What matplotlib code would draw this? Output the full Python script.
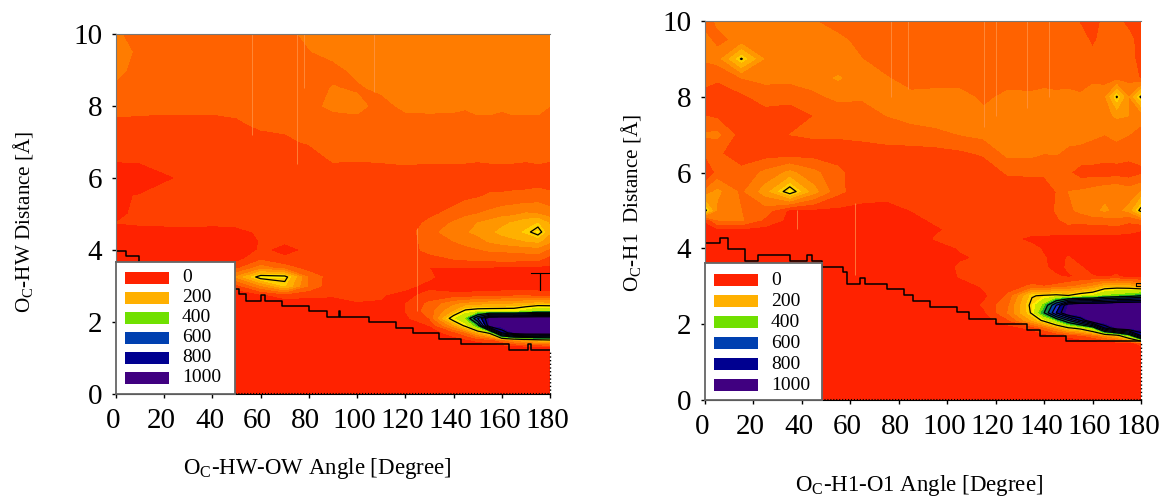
import numpy as np
import matplotlib
matplotlib.use("Agg")
import matplotlib.pyplot as plt
from matplotlib.transforms import ScaledTranslation

plt.rcParams['font.family'] = ['Liberation Serif', 'DejaVu Serif']
plt.rcParams['mathtext.fontset'] = 'custom'
plt.rcParams['mathtext.rm'] = 'Liberation Serif'

W, H = 1166, 498

# contour bands
levels = [0, 40, 80, 120, 160, 200, 240, 280, 320, 400, 450, 500, 600, 700, 800, 900, 1000, 5000]
band_colors = ['#FF2200', '#FF4000', '#FF6200', '#FF7C00', '#FF9600', '#FFB000', '#FFD000', '#FFF000',
               '#C8E800', '#70E000', '#20B030', '#108850', '#0040B0', '#2030D0', '#000090', '#200088', '#400080']
line_levels = [260, 500, 600, 700, 800, 900]
legend_labels = ['0', '200', '400', '600', '800', '1000']
legend_colors = ['#FF2200', '#FFB000', '#70E000', '#0040B0', '#000090', '#400080']
xticks = [0, 20, 40, 60, 80, 100, 120, 140, 160, 180]
yticks = [0, 2, 4, 6, 8, 10]

y_rows = [10, 9.5, 9, 8.5, 8, 7.5, 7, 6.5, 6, 5.5, 5, 4.75, 4.5, 4.25, 4, 3.75, 3.5, 3.25, 3, 2.75, 2.5, 2.3, 2.1, 1.9, 1.7, 1.5, 1.3, 1, 0]

# left panel
x_left = [0, 10, 20, 30, 40, 50, 60, 70, 80, 90, 100, 110, 120, 130, 140, 145, 150, 155, 160, 165, 170, 175, 180]
z_left = [
    [125, 105, 100, 100, 100, 100, 100, 110, 128, 135, 135, 140, 135, 140, 140, 135, 140, 140, 140, 135, 140, 135, 130],
    [130, 115, 100, 105, 100, 100, 100, 105, 118, 130, 125, 140, 135, 140, 140, 130, 135, 140, 140, 140, 135, 140, 130],
    [135, 100, 100, 100, 100, 100, 100, 105, 110, 110, 128, 135, 140, 140, 135, 140, 130, 140, 135, 140, 130, 135, 130],
    [110, 100, 100, 100, 100, 100, 100, 105, 105, 122, 115, 128, 135, 125, 130, 135, 130, 130, 128, 130, 132, 130, 125],
    [95, 100, 95, 95, 95, 95, 95, 100, 100, 135, 132, 105, 130, 130, 128, 125, 135, 130, 128, 135, 128, 125, 120],
    [70, 62, 62, 62, 62, 72, 90, 92, 90, 85, 105, 100, 100, 105, 105, 100, 105, 110, 100, 105, 110, 115, 105],
    [55, 50, 50, 52, 52, 48, 60, 70, 85, 90, 90, 90, 95, 90, 90, 92, 90, 92, 88, 90, 92, 88, 90],
    [42, 45, 45, 45, 40, 45, 48, 48, 50, 85, 82, 85, 88, 85, 85, 85, 82, 85, 85, 85, 82, 85, 82],
    [20, 15, 38, 42, 45, 45, 45, 50, 50, 45, 50, 50, 58, 55, 58, 55, 60, 55, 60, 55, 60, 60, 55],
    [35, 42, 45, 45, 48, 48, 48, 50, 50, 50, 50, 50, 55, 55, 60, 70, 75, 85, 85, 90, 90, 95, 90],
    [38, 42, 45, 45, 45, 48, 50, 50, 50, 50, 50, 55, 60, 70, 95, 110, 120, 130, 145, 150, 165, 160, 140],
    [40, 44, 45, 44, 45, 48, 50, 50, 50, 50, 50, 50, 55, 90, 125, 145, 160, 175, 190, 205, 225, 240, 195],
    [32, 28, 30, 35, 28, 30, 45, 42, 50, 45, 50, 48, 55, 110, 135, 155, 170, 190, 210, 225, 245, 285, 205],
    [25, 20, 15, 15, 15, 10, 42, 44, 45, 40, 50, 45, 50, 105, 120, 130, 145, 165, 180, 190, 200, 210, 170],
    [10, 10, 10, 8, 8, 12, 45, 30, 45, 45, 50, 45, 55, 95, 105, 110, 115, 125, 125, 130, 135, 140, 110],
    [5, 5, 5, 5, 5, 25, 70, 45, 42, 48, 50, 48, 55, 60, 80, 85, 90, 92, 95, 95, 90, 90, 60],
    [5, 5, 5, 5, 5, 70, 140, 100, 60, 50, 50, 48, 50, 40, 35, 35, 35, 35, 30, 30, 30, 30, 30],
    [5, 5, 5, 5, 5, 165, 285, 280, 110, 55, 50, 48, 50, 45, 20, 20, 20, 20, 20, 20, 20, 20, 20],
    [5, 5, 5, 5, 5, 60, 150, 240, 110, 50, 48, 48, 48, 30, 15, 15, 15, 15, 15, 15, 15, 15, 15],
    [5, 5, 5, 5, 5, 10, 30, 60, 50, 45, 45, 42, 30, 50, 50, 50, 55, 60, 60, 65, 65, 60, 55],
    [0, 0, 0, 0, 0, 0, 5, 10, 15, 20, 38, 38, 40, 90, 150, 170, 180, 190, 195, 200, 210, 220, 215],
    [0, 0, 0, 0, 0, 0, 0, 0, 5, 10, 20, 30, 40, 100, 200, 280, 300, 300, 300, 300, 340, 400, 400],
    [0, 0, 0, 0, 0, 0, 0, 0, 0, 0, 5, 10, 30, 80, 300, 400, 700, 1020, 1050, 1050, 1050, 1050, 1050],
    [0, 0, 0, 0, 0, 0, 0, 0, 0, 0, 0, 5, 10, 40, 180, 280, 450, 1000, 1050, 1100, 1100, 1100, 1100],
    [0, 0, 0, 0, 0, 0, 0, 0, 0, 0, 0, 0, 5, 15, 60, 110, 200, 280, 800, 1000, 1050, 1050, 1050],
    [0, 0, 0, 0, 0, 0, 0, 0, 0, 0, 0, 0, 0, 5, 20, 30, 50, 60, 100, 160, 200, 230, 260],
    [0, 0, 0, 0, 0, 0, 0, 0, 0, 0, 0, 0, 0, 0, 0, 0, 5, 5, 10, 10, 10, 10, 10],
    [0, 0, 0, 0, 0, 0, 0, 0, 0, 0, 0, 0, 0, 0, 0, 0, 0, 0, 0, 0, 0, 0, 0],
    [0, 0, 0, 0, 0, 0, 0, 0, 0, 0, 0, 0, 0, 0, 0, 0, 0, 0, 0, 0, 0, 0, 0],
]
step_x_left = [0, 4.2, 9.6, 20, 35, 48, 51, 54, 60, 62, 69, 80, 87.5, 92.5, 93, 105, 116, 123, 134, 143, 163, 171, 172, 180]
step_y_left = [3.97, 3.83, 3.6, 3.4, 3.1, 2.92, 2.78, 2.59, 2.76, 2.59, 2.45, 2.30, 2.14, 2.30, 2.14, 1.99, 1.84, 1.70, 1.54, 1.39, 1.23, 1.39, 1.23, 1.23]
extra_x_left = [172, 176, 176, 176, 180, 180]
extra_y_left = [3.37, 3.37, 2.9, 3.37, 3.37, 3.8]
faint_x_left = [56.5, 75, 78, 107, 125]
faint_lo_left = [7.2, 6.4, 8.5, 8.4, 2.3]
faint_hi_left = [10, 10, 10, 10, 4.6]

# right panel
x_right = [0, 5, 15, 25, 35, 45, 55, 65, 75, 85, 95, 105, 115, 125, 135, 140, 145, 150, 155, 160, 165, 170, 175, 180]
z_right = [
    [105, 125, 120, 125, 125, 122, 100, 100, 100, 100, 100, 100, 100, 100, 100, 100, 100, 100, 75, 60, 90, 95, 60, 50],
    [130, 110, 130, 125, 125, 135, 130, 105, 100, 100, 100, 100, 100, 100, 100, 100, 100, 100, 100, 70, 100, 90, 100, 50],
    [125, 135, 265, 150, 130, 130, 125, 120, 100, 100, 100, 100, 100, 100, 100, 100, 100, 105, 100, 95, 100, 100, 100, 60],
    [90, 85, 120, 130, 130, 140, 165, 130, 122, 105, 100, 100, 105, 100, 100, 100, 100, 105, 100, 105, 100, 100, 105, 75],
    [70, 60, 70, 100, 95, 110, 130, 125, 122, 128, 135, 135, 110, 130, 128, 135, 130, 130, 125, 150, 150, 265, 155, 270],
    [80, 70, 55, 60, 55, 80, 90, 100, 120, 130, 128, 125, 130, 135, 140, 145, 135, 130, 140, 150, 150, 165, 160, 130],
    [125, 130, 60, 55, 80, 85, 85, 90, 100, 105, 115, 120, 130, 150, 135, 140, 145, 135, 130, 125, 120, 130, 120, 110],
    [85, 85, 60, 60, 60, 60, 60, 60, 60, 60, 60, 70, 85, 130, 128, 120, 122, 110, 110, 105, 100, 100, 95, 95],
    [30, 90, 90, 130, 170, 130, 90, 50, 50, 50, 55, 50, 50, 85, 85, 85, 85, 85, 60, 60, 55, 60, 55, 70],
    [130, 170, 110, 180, 290, 175, 90, 55, 50, 50, 50, 50, 48, 50, 60, 60, 80, 120, 125, 135, 150, 155, 140, 160],
    [275, 150, 120, 100, 30, 30, 30, 30, 30, 40, 45, 45, 45, 45, 45, 50, 85, 110, 130, 150, 165, 150, 170, 280],
    [45, 120, 125, 70, 28, 25, 25, 25, 25, 30, 45, 45, 45, 45, 45, 50, 70, 100, 90, 100, 100, 110, 90, 110],
    [20, 30, 35, 25, 25, 25, 20, 15, 15, 25, 35, 50, 50, 60, 55, 50, 55, 55, 60, 60, 60, 60, 55, 42],
    [10, 10, 10, 10, 10, 10, 10, 10, 10, 15, 42, 45, 45, 50, 30, 35, 25, 25, 25, 20, 20, 20, 20, 25],
    [5, 5, 5, 5, 5, 5, 10, 10, 10, 15, 20, 42, 45, 42, 50, 35, 38, 30, 25, 20, 20, 20, 20, 20],
    [5, 5, 5, 5, 5, 5, 5, 10, 10, 10, 20, 35, 45, 50, 45, 42, 30, 42, 30, 20, 30, 20, 20, 20],
    [5, 5, 5, 5, 5, 5, 5, 5, 5, 10, 15, 45, 48, 60, 50, 42, 35, 42, 42, 30, 30, 35, 20, 20],
    [5, 5, 5, 5, 5, 5, 5, 5, 5, 10, 10, 42, 50, 70, 60, 50, 42, 38, 42, 42, 38, 42, 30, 30],
    [5, 5, 5, 5, 5, 5, 5, 5, 5, 5, 5, 15, 45, 65, 85, 80, 90, 110, 130, 160, 210, 220, 210, 170],
    [0, 0, 0, 0, 0, 0, 0, 0, 0, 0, 5, 10, 30, 85, 255, 270, 280, 265, 300, 320, 400, 430, 450, 500],
    [0, 0, 0, 0, 0, 0, 0, 0, 0, 0, 0, 5, 45, 110, 280, 420, 700, 1000, 1050, 1050, 1050, 1100, 1100, 1100],
    [0, 0, 0, 0, 0, 0, 0, 0, 0, 0, 0, 0, 30, 120, 270, 500, 800, 1050, 1100, 1100, 1100, 1100, 1100, 1100],
    [0, 0, 0, 0, 0, 0, 0, 0, 0, 0, 0, 0, 15, 70, 200, 280, 400, 600, 800, 1050, 1100, 1100, 1100, 1100],
    [0, 0, 0, 0, 0, 0, 0, 0, 0, 0, 0, 0, 0, 20, 50, 100, 170, 250, 290, 400, 800, 1000, 1050, 1050],
    [0, 0, 0, 0, 0, 0, 0, 0, 0, 0, 0, 0, 0, 0, 10, 20, 35, 50, 70, 100, 160, 220, 400, 800],
    [0, 0, 0, 0, 0, 0, 0, 0, 0, 0, 0, 0, 0, 0, 0, 0, 0, 5, 5, 10, 10, 10, 10, 60],
    [0, 0, 0, 0, 0, 0, 0, 0, 0, 0, 0, 0, 0, 0, 0, 0, 0, 0, 0, 0, 0, 0, 0, 0],
    [0, 0, 0, 0, 0, 0, 0, 0, 0, 0, 0, 0, 0, 0, 0, 0, 0, 0, 0, 0, 0, 0, 0, 0],
    [0, 0, 0, 0, 0, 0, 0, 0, 0, 0, 0, 0, 0, 0, 0, 0, 0, 0, 0, 0, 0, 0, 0, 0],
]
step_x_right = [0, 6, 9.4, 16.7, 22, 35, 42, 44, 48.3, 57, 58.5, 64, 66, 75, 82, 86, 93, 104, 109, 120, 133, 138.5, 149, 180]
step_y_right = [4.13, 4.27, 3.98, 3.67, 3.82, 3.67, 3.82, 3.67, 3.51, 3.38, 3.07, 3.22, 3.07, 2.92, 2.76, 2.61, 2.46, 2.31, 2.15, 2.0, 1.85, 1.69, 1.55, 1.55]
extra_x_right = [178, 178, 180, 180, 178]
extra_y_right = [3.0, 3.1, 3.1, 3.0, 3.0]
faint_x_right = [38, 62, 76.6, 84, 115, 120, 133, 142]
faint_lo_right = [4.5, 3.3, 8.0, 8.2, 7.2, 7.5, 7.7, 8.0]
faint_hi_right = [5.0, 5.2, 10, 10, 10, 10, 10, 10]


def axes_px(left, right, top, bottom):
    return [left / W, 1 - bottom / H, (right - left) / W, (bottom - top) / H]


def legend_box(ax, box_w, box_h, pitch, first):
    # legend drawn in pixel units inside an inset axes
    ax_w = ax.get_position().width * W
    ax_h = ax.get_position().height * H
    leg = ax.inset_axes([0, 0, box_w / ax_w, box_h / ax_h])
    leg.set_xlim(0, box_w)
    leg.set_ylim(box_h, 0)
    leg.set_xticks([])
    leg.set_yticks([])
    for s in leg.spines.values():
        s.set_color('#666666')
        s.set_linewidth(1.3)
    for i in range(len(legend_labels)):
        leg.barh(first + i * pitch, 44, height=11.5, left=9, color=legend_colors[i])
        leg.text(66, first + i * pitch, legend_labels[i], fontsize=14, va='center', ha='left')


def panel(fig, rect, x, z, step_x, step_y, extra_x, extra_y, faint_x, faint_lo, faint_hi, xlabel, ylabel, xlab_px, ylab_px, leg_args):
    ax = fig.add_axes(axes_px(*rect))
    ax.contourf(x, y_rows, np.array(z), levels=levels, colors=band_colors)
    ax.contour(x, y_rows, np.array(z), levels=line_levels, colors='black', linewidths=0.9)
    ax.vlines(faint_x, faint_lo, faint_hi, color='#FF9A50', lw=0.6, alpha=0.8)
    ax.plot(step_x, step_y, color='black', lw=1.1, drawstyle='steps-post')
    ax.plot(extra_x, extra_y, color='black', lw=0.8)
    ax.plot([180, 180], [0, step_y[-1]], color='black', lw=1.0, ls=':', clip_on=False)
    ax.plot([48, 180], [0.03, 0.03], color='black', lw=0.8, ls=':')
    ax.set_xlim(0, 180)
    ax.set_ylim(0, 10)
    ax.set_xticks(xticks)
    ax.set_yticks(yticks)
    ax.tick_params(labelsize=21, length=3, width=1, pad=7)
    shift = ScaledTranslation(-3 / 100, 0, fig.dpi_scale_trans)
    for lab in ax.get_xticklabels():
        lab.set_transform(lab.get_transform() + shift)
    for s in ['top', 'left']:
        ax.spines[s].set_color('#777777')
    ax.spines['right'].set_visible(False)
    legend_box(ax, *leg_args)
    fig.text(xlab_px[0] / W, 1 - xlab_px[1] / H, xlabel, fontsize=16.5, ha='center', va='center')
    fig.text(ylab_px[0] / W, 1 - ylab_px[1] / H, ylabel, fontsize=15.2, ha='center', va='center', rotation=90)
    return ax


fig = plt.figure(figsize=(W / 100, H / 100), dpi=100)
panel(fig, (116, 550, 34, 394), x_left, z_left, step_x_left, step_y_left, extra_x_left, extra_y_left,
      faint_x_left, faint_lo_left, faint_hi_left,
      r'O$_{\mathrm{C}}$-HW-OW Angle [Degree]', r'O$_{\mathrm{C}}$-HW Distance [Å]', (317, 468), (24, 222),
      (119, 132, 20, 16))
panel(fig, (705, 1141, 21, 400), x_right, z_right, step_x_right, step_y_right, extra_x_right, extra_y_right,
      faint_x_right, faint_lo_right, faint_hi_right,
      r'O$_{\mathrm{C}}$-H1-O1 Angle [Degree]', r'O$_{\mathrm{C}}$-H1  Distance [Å]', (919, 485), (632, 203),
      (117, 137, 21, 17))
fig.savefig('out.png', dpi=100)
